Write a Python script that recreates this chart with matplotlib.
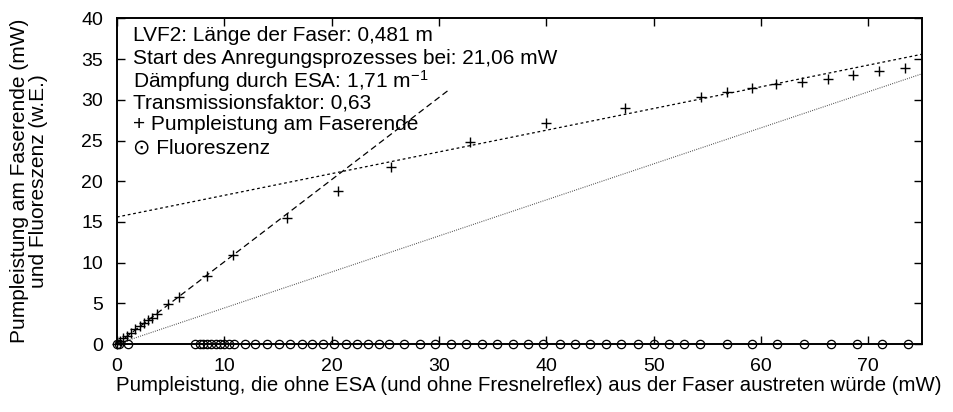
import matplotlib
matplotlib.use('Agg')
import matplotlib.pyplot as plt

# data
# + Pumpleistung am Faserende
pump_x = [0.0, 0.3, 0.6, 0.9, 1.3, 1.7, 2.1, 2.5, 2.9, 3.3, 3.7, 4.8, 5.8,
          8.4, 10.8, 15.8, 20.6, 25.5, 32.9, 40.0, 47.3, 54.4, 56.8, 59.2,
          61.4, 63.8, 66.2, 68.6, 71.0, 73.4]
pump_y = [0.0, 0.4, 0.7, 1.0, 1.4, 1.8, 2.2, 2.6, 2.9, 3.2, 3.7, 4.9, 5.8,
          8.4, 10.9, 15.5, 18.8, 21.8, 24.8, 27.2, 29.0, 30.4, 30.9, 31.5,
          31.9, 32.2, 32.6, 33.1, 33.5, 33.9]

# o Fluoreszenz
flu_x = [0.0, 0.2, 1.0, 7.3, 7.7, 8.0, 8.4, 8.8, 9.2, 9.6, 10.0, 10.4, 10.9,
         11.9, 12.9, 14.0, 15.1, 16.1, 17.2, 18.2, 19.2, 20.2, 21.3, 22.4,
         23.4, 24.4, 25.3, 26.7, 28.2, 29.6, 31.1, 32.5, 34.0, 35.4, 36.9,
         38.3, 39.7, 41.3, 42.7, 44.1, 45.6, 47.0, 48.5, 50.0, 51.4, 52.8,
         54.3, 56.8, 59.2, 61.5, 64.0, 66.5, 68.9, 71.3, 73.7]
flu_y = [0.0, 0.0, 0.0, 0.0, 0.0, 0.0, 0.0, 0.0, 0.0, 0.0, 0.0, 0.0, 0.0,
         0.0, 0.0, 0.0, 0.0, 0.0, 0.0, 0.0, 0.0, 0.0, 0.0, 0.0, 0.0, 0.0,
         0.0, 0.0, 0.0, 0.0, 0.0, 0.0, 0.0, 0.0, 0.0, 0.0, 0.0, 0.0, 0.0,
         0.0, 0.0, 0.0, 0.0, 0.0, 0.0, 0.0, 0.0, 0.0, 0.0, 0.0, 0.0, 0.0,
         0.0, 0.0, 0.0]

# fit lines (end points)
esa_x = [0.0, 31.0]
esa_y = [0.0, 31.3]
sat_x = [0.0, 75.0]
sat_y = [15.6, 35.6]
trans_x = [0.0, 75.0]
trans_y = [0.0, 33.2]

x_ticks = [0, 10, 20, 30, 40, 50, 60, 70]
y_ticks = [0, 5, 10, 15, 20, 25, 30, 35, 40]

info_lines = [
    "LVF2: Länge der Faser: 0,481 m",
    "Start des Anregungsprozesses bei: 21,06 mW",
    "Dämpfung durch ESA: 1,71 m$^{-1}$",
    "Transmissionsfaktor: 0,63",
    "+ Pumpleistung am Faserende",
    "\u2299 Fluoreszenz",
]

plt.rcParams.update({
    'font.family': ['Liberation Sans', 'DejaVu Sans'],
    'mathtext.default': 'regular',
    'font.size': 14,
})

fig = plt.figure(figsize=(9.54, 4.12), dpi=100)
ax = fig.add_axes([0.1226, 0.165, 0.8439, 0.7903])

ax.plot(esa_x, esa_y, color='black', lw=0.9, dashes=(5, 3))
ax.plot(sat_x, sat_y, color='black', lw=0.9, dashes=(2.2, 2.2))
ax.plot(trans_x, trans_y, color='#444444', lw=0.8, dashes=(0.8, 1.2))

ax.plot(pump_x, pump_y, '+', color='black', markersize=7, mew=1.0, clip_on=False)
ax.plot(flu_x, flu_y, 'o', mfc='none', mec='black', markersize=6, mew=0.9, clip_on=False)

ax.set_xlim(0, 75)
ax.set_ylim(0, 40)
ax.set_xticks(x_ticks)
ax.set_yticks(y_ticks)
ax.tick_params(direction='in', length=6, width=1, top=True, right=True,
               labelsize=14, pad=10)
for sp in ax.spines.values():
    sp.set_linewidth(1.4)

ax.set_ylabel("Pumpleistung am Faserende (mW)\nund Fluoreszenz (w.E.)",
              fontsize=15, linespacing=0.95)
ax.yaxis.set_label_coords(-0.086, 0.5)
fig.text(0.5545, 0.065,
         "Pumpleistung, die ohne ESA (und ohne Fresnelreflex) aus der Faser austreten würde (mW)",
         ha='center', va='center', fontsize=14.7)

y_pos = [0.949, 0.877, 0.808, 0.739, 0.673, 0.601]
for txt, yp in zip(info_lines, y_pos):
    ax.text(0.02, yp, txt, transform=ax.transAxes, ha='left', va='center',
            fontsize=15)

fig.savefig('out.png', dpi=100)
